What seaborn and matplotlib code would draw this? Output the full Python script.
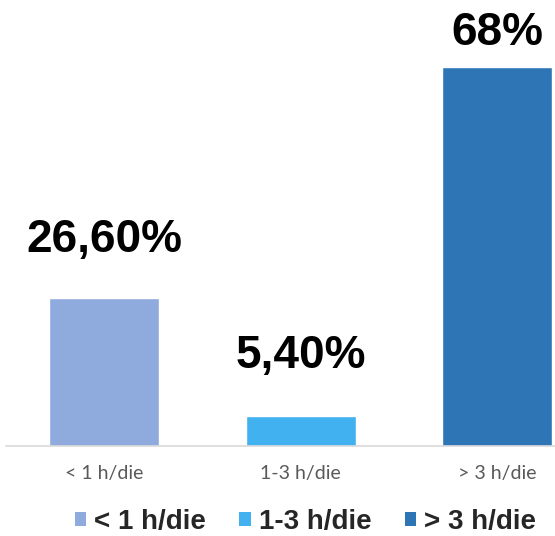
import matplotlib
matplotlib.use('Agg')
import matplotlib.pyplot as plt
from matplotlib.patches import Patch
import seaborn as sns
import pandas as pd

# Dati del grafico
categories = ['< 1 h/die', '1-3 h/die', '> 3 h/die']
values = [26.6, 5.4, 68.0]
value_labels = ['26,60%', '5,40%', '68%']
colors = ['#8FAADC', '#41B1EF', '#2E75B6']

# distanza etichetta-barra (pixel), come nel grafico originale
label_offsets = [46, 48, 22]


def main():
    sns.set_theme(style="white")
    df = pd.DataFrame({'fascia': categories, 'valore': values})

    fig = plt.figure(figsize=(5.55, 5.36), dpi=100)
    ax = fig.add_axes([0.0103, 0.167, 0.9897, 0.833])

    sns.barplot(data=df, x='fascia', y='valore', hue='fascia',
                palette=dict(zip(categories, colors)), width=0.56,
                saturation=1, legend=False, ax=ax)

    ax.set_xlim(-0.5, 2.294)
    ax.set_ylim(0, 80)
    ax.set_xlabel('')
    ax.set_ylabel('')
    ax.set_yticks([])
    sns.despine(ax=ax, left=True, top=True, right=True)
    ax.spines['bottom'].set_color('#D9D9D9')
    ax.spines['bottom'].set_linewidth(1.2)
    ax.tick_params(axis='x', length=0, pad=13, labelsize=14, labelcolor='#595959')
    for lbl in ax.get_xticklabels():
        lbl.set_fontfamily('Lato')

    # etichette dei valori
    for i, (v, txt) in enumerate(zip(values, value_labels)):
        ax.annotate(txt, xy=(i, v), xytext=(0, label_offsets[i]),
                    textcoords='offset pixels', ha='center', va='baseline',
                    fontsize=33, fontweight='bold', family='Liberation Sans',
                    color='black', annotation_clip=False)

    # legenda
    handles = [Patch(facecolor=c, edgecolor='none', label=l)
               for c, l in zip(colors, categories)]
    fig.legend(handles=handles, loc='center', bbox_to_anchor=(0.5505, 0.026),
               ncol=3, frameon=False, handlelength=0.4, handleheight=0.4,
               handletextpad=0.3, columnspacing=1.2,
               prop={'family': 'Liberation Sans', 'weight': 'bold', 'size': 20})

    fig.savefig('out.png', dpi=100)
    plt.close(fig)


if __name__ == '__main__':
    main()
